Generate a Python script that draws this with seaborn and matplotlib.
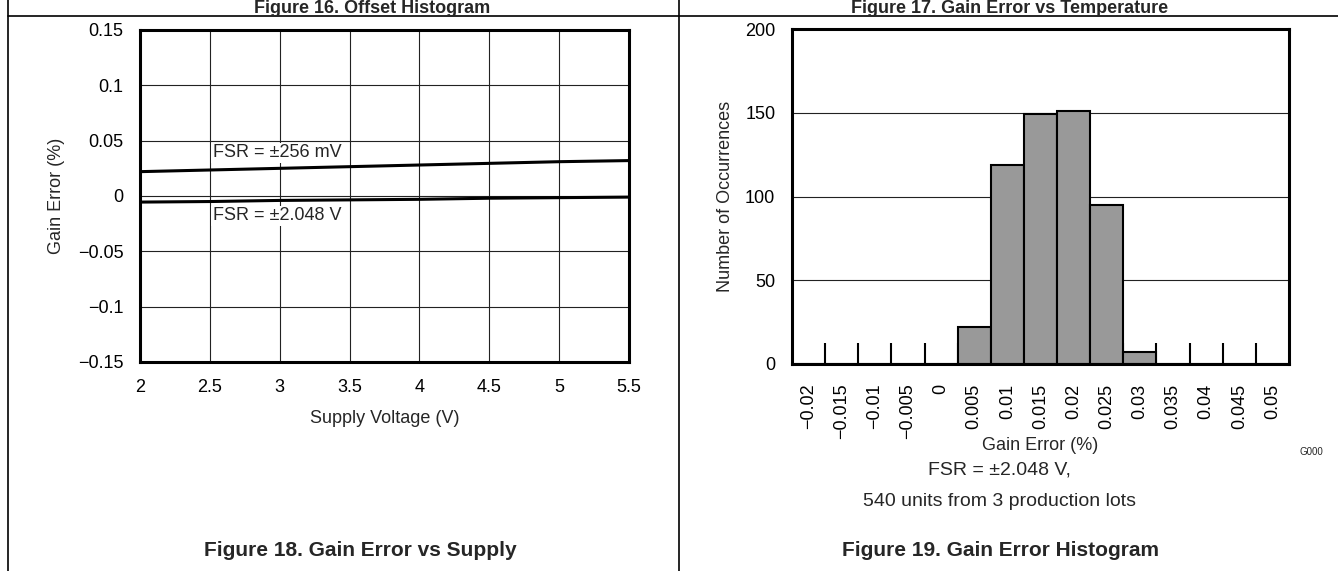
import numpy as np
import pandas as pd
import matplotlib
matplotlib.use('Agg')
import matplotlib.pyplot as plt
from matplotlib.lines import Line2D
from matplotlib.ticker import FixedLocator
import seaborn as sns

# Figure 18 data: gain error vs supply
supply_v = [2.0, 2.5, 3.0, 3.5, 4.0, 4.5, 5.0, 5.5]
gain_256mv = [0.022, 0.0235, 0.025, 0.0265, 0.028, 0.0295, 0.031, 0.032]
gain_2048v = [-0.0055, -0.005, -0.004, -0.0035, -0.003, -0.002, -0.0015, -0.001]

# Figure 19 data: gain error histogram
bin_labels = ['−0.02', '−0.015', '−0.01', '−0.005', '0', '0.005', '0.01', '0.015',
              '0.02', '0.025', '0.03', '0.035', '0.04', '0.045', '0.05']
counts = [0, 0, 0, 0, 0, 22, 119, 149, 151, 95, 7, 0, 0, 0, 0]

sns.set_theme(style='white')
plt.rcParams['font.family'] = ['Liberation Sans', 'DejaVu Sans']
plt.rcParams['axes.unicode_minus'] = True

W, H = 1338, 571
fig = plt.figure(figsize=(W / 100, H / 100), dpi=100)


def box(x0, y0, x1, y1):
    # pixel box (top-left origin) -> figure rect
    return [x0 / W, 1 - y1 / H, (x1 - x0) / W, (y1 - y0) / H]


def fx(px):
    return px / W


def fy(py):
    return 1 - py / H


# page frame lines
fig.add_artist(Line2D([fx(8), fx(8)], [0, 1], color='black', lw=1.2))
fig.add_artist(Line2D([fx(679), fx(679)], [0, 1], color='black', lw=1.2))
fig.add_artist(Line2D([fx(8), 1], [fy(16), fy(16)], color='black', lw=1.2))

# titles of the row above (cut off at the page top in the source)
fig.text(fx(372), fy(13), 'Figure 16. Offset Histogram', ha='center', va='baseline',
         fontsize=13, fontweight='bold')
fig.text(fx(1010), fy(13), 'Figure 17. Gain Error vs Temperature', ha='center', va='baseline',
         fontsize=13, fontweight='bold')

# ---------- left: gain error vs supply ----------
ax1 = fig.add_axes(box(140, 30, 629, 362))
df_sup = pd.DataFrame({'v': supply_v + supply_v,
                       'g': gain_256mv + gain_2048v,
                       'fsr': ['256mV'] * len(supply_v) + ['2048V'] * len(supply_v)})
sns.lineplot(data=df_sup, x='v', y='g', units='fsr', estimator=None,
             color='black', lw=2.2, ax=ax1, legend=False)
ax1.set_xlim(2, 5.5)
ax1.set_ylim(-0.15, 0.15)
ax1.set_xticks([2, 2.5, 3, 3.5, 4, 4.5, 5, 5.5])
ax1.set_xticklabels(['2', '2.5', '3', '3.5', '4', '4.5', '5', '5.5'])
ax1.set_yticks([-0.15, -0.1, -0.05, 0, 0.05, 0.1, 0.15])
ax1.set_yticklabels(['−0.15', '−0.1', '−0.05', '0', '0.05', '0.1', '0.15'])
ax1.grid(True, color='#222222', lw=0.8)
ax1.tick_params(length=0, labelsize=13, pad=12, colors='black')
for s in ax1.spines.values():
    s.set_color('black')
    s.set_linewidth(2.2)
ax1.set_xlabel('Supply Voltage (V)', fontsize=13, labelpad=10)
ax1.set_ylabel('Gain Error (%)', fontsize=13, labelpad=9)
ax1.text(2.52, 0.039, 'FSR = ±256 mV', fontsize=13, va='center', ha='left',
         bbox=dict(facecolor='white', edgecolor='none', pad=1))
ax1.text(2.52, -0.018, 'FSR = ±2.048 V', fontsize=13, va='center', ha='left',
         bbox=dict(facecolor='white', edgecolor='none', pad=1))

fig.text(fx(360), fy(551), 'Figure 18. Gain Error vs Supply', ha='center', va='center',
         fontsize=15, fontweight='bold')

# ---------- right: gain error histogram ----------
ax2 = fig.add_axes(box(792, 29, 1289, 364))
df_hist = pd.DataFrame({'bin': bin_labels, 'n': counts})
sns.barplot(data=df_hist, x='bin', y='n', order=bin_labels, color='#999999',
            saturation=1, edgecolor='black', linewidth=1.5, width=1.0, ax=ax2)
ax2.set_xlim(-0.5, len(bin_labels) - 0.5)
ax2.set_ylim(0, 200)
ax2.set_yticks([0, 50, 100, 150, 200])
ax2.yaxis.grid(True, color='#222222', lw=0.8)
ax2.set_axisbelow(True)
ax2.tick_params(axis='y', length=0, labelsize=13, pad=12, colors='black')
ax2.tick_params(axis='x', which='major', length=0, labelsize=13, pad=14,
                rotation=90, colors='black')
ax2.xaxis.set_minor_locator(FixedLocator(np.arange(0.5, len(bin_labels) - 1, 1.0)))
ax2.tick_params(axis='x', which='minor', direction='in', length=15, width=1.5,
                color='black', bottom=True)
for s in ax2.spines.values():
    s.set_color('black')
    s.set_linewidth(2.2)
ax2.set_xlabel('Gain Error (%)', fontsize=13)
ax2.xaxis.set_label_coords(0.5, -0.218)
ax2.set_ylabel('Number of Occurrences', fontsize=13, labelpad=8)

fig.text(fx(1300), fy(452), 'G000', ha='left', va='center', fontsize=7)
fig.text(fx(999), fy(470), 'FSR = ±2.048 V,', ha='center', va='center', fontsize=14)
fig.text(fx(999), fy(502), '540 units from 3 production lots', ha='center', va='center',
         fontsize=14)
fig.text(fx(1001), fy(551), 'Figure 19. Gain Error Histogram', ha='center', va='center',
         fontsize=15, fontweight='bold')

fig.savefig('out.png', dpi=100, facecolor='white')
